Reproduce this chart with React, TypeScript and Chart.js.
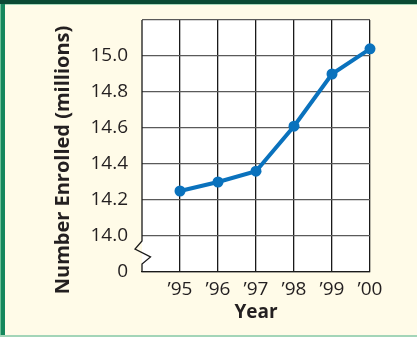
import React, { useEffect, useRef } from "react";
import { Chart, registerables } from "chart.js";

Chart.register(...registerables);

const years = ["\u201995", "\u201996", "\u201997", "\u201998", "\u201999", "\u201900"];
const enrolled = [14.25, 14.3, 14.36, 14.61, 14.9, 15.04];
const yTickValues = [13.8, 14.0, 14.2, 14.4, 14.6, 14.8, 15.0, 15.2];
const yTickLabels = ["0", "14.0", "14.2", "14.4", "14.6", "14.8", "15.0", ""];
const xTitle = "Year";
const yTitle = "Number Enrolled (millions)";

const W = 417;
const H = 337;
const FONT = "'Open Sans', 'Noto Sans', sans-serif";
const TEXT = "#231f20";

const framePlugin = {
  id: "frame",
  beforeDraw(chart: any) {
    const { ctx, chartArea } = chart;
    ctx.save();
    ctx.fillStyle = "#fffbe8";
    ctx.fillRect(0, 0, W, H);
    ctx.fillStyle = "#0b4a34";
    ctx.fillRect(0, 0, W, 4);
    ctx.fillStyle = "#a6d8bb";
    ctx.fillRect(0, 4, W, 1);
    ctx.fillStyle = "#6cbf98";
    ctx.fillRect(0, 4, 1, H - 4);
    ctx.fillStyle = "#15875c";
    ctx.fillRect(1, 4, 4, H - 4);
    ctx.fillStyle = "#a3d5b8";
    ctx.fillRect(0, H - 2, W, 2);
    ctx.fillStyle = "#ffffff";
    ctx.fillRect(chartArea.left, chartArea.top, chartArea.right - chartArea.left, chartArea.bottom - chartArea.top);
    ctx.restore();
  },
  beforeDatasetsDraw(chart: any) {
    const { ctx, chartArea, scales } = chart;
    const y = scales.y;
    const x0 = chartArea.left;
    const yTop = chartArea.top;
    const yBot = chartArea.bottom;
    const y0 = y.getPixelForValue(yTickValues[0]);
    const y1 = y.getPixelForValue(yTickValues[1]);
    const seg = y0 - y1;
    const a = y1 + seg * 0.14;
    const b = y1 + seg * 0.36;
    const c = y1 + seg * 0.58;
    const d = y1 + seg * 0.78;
    ctx.save();
    ctx.strokeStyle = "#1a1a1a";
    ctx.lineWidth = 1.3;
    ctx.beginPath();
    ctx.moveTo(x0, yTop);
    ctx.lineTo(x0, a);
    ctx.lineTo(x0 - 7, b);
    ctx.lineTo(x0 + 8.5, c);
    ctx.lineTo(x0, d);
    ctx.lineTo(x0, yBot);
    ctx.stroke();
    // y-axis title
    ctx.fillStyle = TEXT;
    ctx.font = `bold 20px ${FONT}`;
    ctx.textAlign = "center";
    ctx.textBaseline = "middle";
    ctx.translate(63, 160);
    ctx.rotate(-Math.PI / 2);
    ctx.fillText(yTitle, 0, 0);
    ctx.restore();
  },
};

export default function App() {
  const ref = useRef<HTMLCanvasElement>(null);
  useEffect(() => {
    document.body.style.margin = "0";
    const canvas = ref.current!;
    const chart = new Chart(canvas, {
      type: "line",
      data: {
        labels: ["", ...years],
        datasets: [
          {
            data: [null, ...enrolled],
            borderColor: "#0a72bd",
            backgroundColor: "#0a72bd",
            borderWidth: 4,
            pointRadius: 5.5,
            pointBorderWidth: 0,
            pointBackgroundColor: "#0a72bd",
            tension: 0,
            clip: false as any,
          },
        ],
      },
      options: {
        responsive: false,
        animation: false,
        devicePixelRatio: 1,
        layout: { padding: { top: 20, right: 47, left: 0, bottom: 0 } },
        plugins: { legend: { display: false }, tooltip: { enabled: false } },
        scales: {
          x: {
            type: "category",
            offset: false,
            afterFit: (s: any) => {
              s.height = 65;
              s.paddingLeft = 0;
              s.paddingRight = 0;
              s.paddingTop = 0;
              s.paddingBottom = 0;
            },
            grid: {
              color: (c: any) => (c.index === 0 ? "rgba(0,0,0,0)" : "#1a1a1a"),
              lineWidth: 1.3,
              drawTicks: false,
            },
            border: { display: true, color: "#1a1a1a", width: 1.3 },
            ticks: {
              color: TEXT,
              font: { family: FONT, size: 19 },
              padding: 6,
              maxRotation: 0,
              autoSkip: false,
            },
            title: {
              display: true,
              text: xTitle,
              color: TEXT,
              font: { family: FONT, size: 19, weight: "bold" },
              padding: { top: 0, bottom: 13 },
            },
          },
          y: {
            type: "linear",
            min: yTickValues[0],
            max: yTickValues[yTickValues.length - 1],
            afterFit: (s: any) => {
              s.width = 142;
              s.paddingTop = 0;
              s.paddingBottom = 0;
              s.paddingLeft = 0;
              s.paddingRight = 0;
            },
            afterBuildTicks: (s: any) => {
              s.ticks = yTickValues.map((v) => ({ value: v }));
            },
            grid: {
              color: "#5a5a5a",
              lineWidth: 1.3,
              drawTicks: false,
            },
            border: { display: false },
            ticks: {
              color: TEXT,
              font: { family: FONT, size: 19 },
              padding: 14,
              callback: (_v: any, i: number) => yTickLabels[i],
            },
          },
        },
      },
      plugins: [framePlugin],
    });
    return () => chart.destroy();
  }, []);
  return (
    <div style={{ width: W, height: H }}>
      <canvas ref={ref} width={W} height={H} style={{ display: "block" }} />
    </div>
  );
}
